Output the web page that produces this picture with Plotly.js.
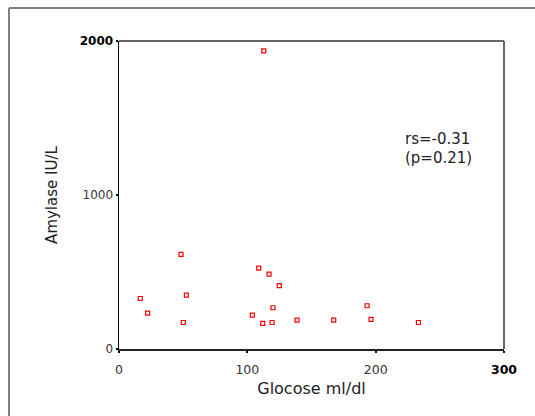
<!DOCTYPE html>
<html>
<head>
<meta charset="utf-8">
<script src="https://cdn.plot.ly/plotly-3.0.1.min.js"></script>
<style>html,body{margin:0;padding:0;background:#fff;}#chart{width:535px;height:416px;}</style>
</head>
<body>
<div id="chart"></div>
<script>
var glucose = [112.8, 48.3, 16.6, 22.3, 52.5, 50.1, 108.9, 116.9, 124.9, 120, 103.9, 112, 119.3, 138.7, 167.3, 193.3, 196.4, 233.3];
var amylase = [1936, 614, 328, 233, 350, 172, 525, 486, 411, 268, 220, 166, 172, 187, 187, 281, 192, 172];
var xTickVals = [0, 100, 200, 300];
var xTickText = ['<span style="color:#333">0</span>', '<span style="color:#333">100</span>', '<span style="color:#333">200</span>', '<b>300</b>'];
var yTickVals = [0, 1000, 2000];
var yTickText = ['<span style="color:#333">0</span>', '<span style="color:#333">1000</span>', '<b>2000</b>'];
var statLines = ['rs=-0.31', '(p=0.21)'];

var font = 'DejaVu Sans, sans-serif';
var trace = {
  x: glucose, y: amylase, type: 'scatter', mode: 'markers',
  marker: {symbol: 'square-open', size: 4, color: '#ff0000', line: {width: 1.2, color: '#ff0000'}},
  hoverinfo: 'none'
};
var layout = {
  width: 535, height: 416,
  margin: {l: 119, r: 31, t: 41, b: 67, pad: 0},
  paper_bgcolor: '#fff', plot_bgcolor: '#fff',
  showlegend: false,
  font: {family: font, size: 12, color: '#000'},
  xaxis: {
    range: [0, 300], tickvals: xTickVals, ticktext: xTickText,
    ticks: 'outside', ticklen: 2, tickwidth: 2, tickcolor: '#000',
    ticklabelstandoff: 6,
    showgrid: false, zeroline: false, showline: true, linecolor: '#222', linewidth: 1.5,
    tickfont: {size: 12.5, family: font}, automargin: false,
    title: {text: 'Glocose ml/dl', font: {size: 16, family: font, color: '#222'}, standoff: 7}
  },
  yaxis: {
    range: [0, 2000], tickvals: yTickVals, ticktext: yTickText,
    ticks: 'outside', ticklen: 2, tickwidth: 2, tickcolor: '#000',
    showgrid: false, zeroline: false, showline: true, linecolor: '#000', linewidth: 1.5,
    tickfont: {size: 12, family: font}, automargin: false,
    title: {text: 'Amylase IU/L', font: {size: 15, family: font, color: '#222'}, standoff: 18}
  },
  shapes: [
    {type: 'line', xref: 'paper', yref: 'paper', x0: 0, x1: 1, y0: 1, y1: 1, line: {color: '#666', width: 2}},
    {type: 'line', xref: 'paper', yref: 'paper', x0: 1, x1: 1, y0: 0, y1: 1, line: {color: '#666', width: 2}},
    {type: 'line', xref: 'paper', yref: 'paper', x0: -0.2857, x1: -0.2857, y0: -0.2175, y1: 1.1071, line: {color: '#808080', width: 2}},
    {type: 'line', xref: 'paper', yref: 'paper', x0: -0.2857, x1: 1.0805, y0: 1.1071, y1: 1.1071, line: {color: '#808080', width: 2}}
  ],
  annotations: [
    {xref: 'x', yref: 'y', x: 221, y: 1365, text: statLines[0], showarrow: false, xanchor: 'left', yanchor: 'middle', font: {size: 15, family: font, color: '#222'}},
    {xref: 'x', yref: 'y', x: 221, y: 1240, text: statLines[1], showarrow: false, xanchor: 'left', yanchor: 'middle', font: {size: 15, family: font, color: '#222'}}
  ]
};
Plotly.newPlot('chart', [trace], layout, {staticPlot: true, displayModeBar: false});
</script>
</body>
</html>
